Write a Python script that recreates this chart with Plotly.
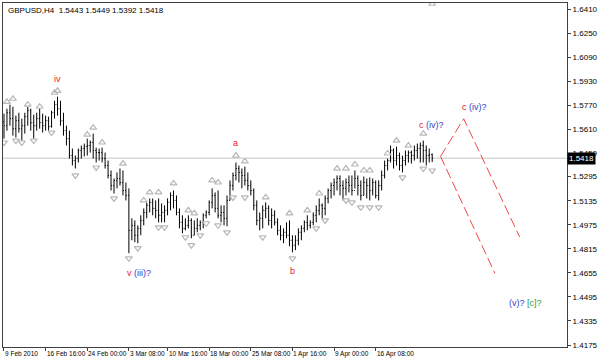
import plotly.graph_objects as go

# ---------------- data ----------------
highs = [1.5714,1.5747,1.5774,1.5760,1.5701,1.5720,1.5681,1.5720,1.5760,1.5747,
         1.5707,1.5720,1.5747,1.5714,1.5701,1.5694,1.5734,1.5800,1.5827,1.5800,
         1.5720,1.5634,1.5601,1.5482,1.5435,1.5482,1.5502,1.5515,1.5548,1.5535,
         1.5581,1.5488,1.5482,1.5488,1.5455,1.5402,1.5336,1.5283,1.5323,1.5349,
         1.5336,1.5256,1.5217,1.5018,1.5004,1.4971,1.5038,1.5084,1.5124,1.5150,
         1.5150,1.5137,1.5150,1.5117,1.5104,1.5150,1.5190,1.5203,1.5170,1.5084,
         1.5038,1.5018,1.5038,1.5018,1.5004,1.5018,1.5004,1.5051,1.5071,1.5137,
         1.5217,1.5190,1.5203,1.5104,1.5104,1.5170,1.5270,1.5323,1.5389,1.5369,
         1.5349,1.5362,1.5323,1.5270,1.5217,1.5137,1.5057,1.5104,1.5124,1.5104,
         1.5084,1.5071,1.5018,1.4971,1.4951,1.4991,1.5004,1.4905,1.4905,1.4951,
         1.4971,1.5004,1.5038,1.5004,1.5057,1.5104,1.5150,1.5117,1.5170,1.5217,
         1.5256,1.5283,1.5303,1.5303,1.5270,1.5283,1.5303,1.5303,1.5336,1.5303,
         1.5270,1.5296,1.5283,1.5290,1.5283,1.5270,1.5270,1.5336,1.5402,1.5415,
         1.5502,1.5482,1.5495,1.5455,1.5435,1.5469,1.5469,1.5469,1.5502,1.5515,
         1.5522,1.5535,1.5502,1.5482,1.5449]
lows = [1.5548,1.5601,1.5634,1.5568,1.5555,1.5588,1.5535,1.5581,1.5634,1.5601,
        1.5548,1.5601,1.5614,1.5588,1.5601,1.5601,1.5621,1.5681,1.5701,1.5634,
        1.5568,1.5502,1.5415,1.5369,1.5349,1.5389,1.5415,1.5429,1.5435,1.5455,
        1.5415,1.5389,1.5402,1.5389,1.5349,1.5283,1.5203,1.5183,1.5217,1.5236,
        1.5170,1.5137,1.4786,1.4872,1.4859,1.4852,1.4905,1.4971,1.5018,1.5057,
        1.5038,1.5018,1.4991,1.4991,1.4991,1.5038,1.5071,1.5084,1.5038,1.4951,
        1.4918,1.4938,1.4951,1.4885,1.4905,1.4925,1.4938,1.4951,1.5018,1.5038,
        1.5084,1.5057,1.5018,1.4991,1.4971,1.4965,1.5137,1.5203,1.5270,1.5256,
        1.5217,1.5236,1.5203,1.5170,1.5071,1.4971,1.4938,1.4951,1.5018,1.4971,
        1.4951,1.4971,1.4905,1.4872,1.4852,1.4885,1.4832,1.4792,1.4806,1.4839,
        1.4872,1.4925,1.4938,1.4951,1.4971,1.4991,1.5038,1.5018,1.5038,1.5117,
        1.5150,1.5170,1.5203,1.5170,1.5137,1.5170,1.5190,1.5170,1.5217,1.5170,
        1.5137,1.5170,1.5150,1.5137,1.5170,1.5150,1.5137,1.5203,1.5283,1.5336,
        1.5389,1.5349,1.5369,1.5336,1.5323,1.5369,1.5389,1.5382,1.5402,1.5415,
        1.5389,1.5389,1.5369,1.5389,1.5392]
closes = [1.5634,1.5720,1.5681,1.5614,1.5667,1.5614,1.5634,1.5694,1.5734,1.5654,
          1.5634,1.5681,1.5654,1.5634,1.5667,1.5628,1.5720,1.5774,1.5747,1.5667,
          1.5601,1.5548,1.5435,1.5402,1.5415,1.5469,1.5482,1.5495,1.5502,1.5522,
          1.5469,1.5455,1.5455,1.5415,1.5369,1.5303,1.5236,1.5270,1.5283,1.5256,
          1.5203,1.5170,1.4938,1.4971,1.4905,1.4951,1.5004,1.5057,1.5104,1.5124,
          1.5084,1.5071,1.5038,1.5057,1.5071,1.5124,1.5170,1.5137,1.5057,1.4991,
          1.4951,1.4971,1.5004,1.4905,1.4951,1.4971,1.4991,1.5038,1.5057,1.5124,
          1.5170,1.5084,1.5038,1.5057,1.5018,1.5137,1.5236,1.5303,1.5349,1.5323,
          1.5303,1.5270,1.5236,1.5203,1.5104,1.5004,1.5018,1.5071,1.5084,1.5004,
          1.5038,1.4991,1.4938,1.4905,1.4925,1.4905,1.4872,1.4839,1.4872,1.4925,
          1.4951,1.4991,1.4971,1.4991,1.5038,1.5071,1.5104,1.5084,1.5150,1.5203,
          1.5236,1.5256,1.5283,1.5236,1.5217,1.5256,1.5236,1.5203,1.5283,1.5236,
          1.5170,1.5256,1.5236,1.5203,1.5256,1.5170,1.5236,1.5303,1.5369,1.5402,
          1.5469,1.5402,1.5435,1.5369,1.5402,1.5435,1.5455,1.5435,1.5469,1.5482,
          1.5502,1.5469,1.5435,1.5443,1.5418]
first_open = 1.5660
last_bar = {"open": 1.5443, "high": 1.5449, "low": 1.5392, "close": 1.5418}

frac_up_idx = [1, 3, 8, 12, 17, 18, 28, 30, 33, 40, 47, 49, 52, 57, 62, 64, 70, 72, 78, 81,
               88, 96, 102, 106, 112, 115, 118, 121, 123, 129, 132, 136, 141, 144]
frac_up_price = [1.5793, 1.5813, 1.5774, 1.5760, 1.5853, 1.5866, 1.5575, 1.5621, 1.5522, 1.5382,
                 1.5137, 1.5190, 1.5190, 1.5250, 1.5071, 1.5051, 1.5270, 1.5256, 1.5435, 1.5396,
                 1.5157, 1.5051, 1.5071, 1.5183, 1.5349, 1.5349, 1.5376, 1.5336, 1.5336, 1.5449,
                 1.5535, 1.5502, 1.5581, 1.6445]
frac_dn_idx = [0, 4, 6, 10, 16, 24, 31, 37, 42, 45, 52, 54, 61, 63, 66, 68, 72, 75, 77, 81,
               87, 97, 105, 108, 115, 117, 120, 123, 126, 134, 141, 144]
frac_dn_price = [1.5522, 1.5535, 1.5522, 1.5535, 1.5588, 1.5303, 1.5356, 1.5150, 1.4752, 1.4819,
                 1.4958, 1.4958, 1.4892, 1.4839, 1.4905, 1.4985, 1.4971, 1.4925, 1.5157, 1.5157,
                 1.4892, 1.4752, 1.4951, 1.5004, 1.5137, 1.5124, 1.5091, 1.5091, 1.5091, 1.5290,
                 1.5349, 1.5336]

proj1_idx = [146.8, 154.6, 173.4]
proj1_price = [1.5430, 1.5680, 1.4894]
proj2_idx = [146.8, 165.1]
proj2_price = [1.5430, 1.4651]

date_idx = [0, 14, 28, 42, 55, 69, 83, 97, 111, 125]
date_text = ["9 Feb 2010", "16 Feb 16:00", "24 Feb 00:00", "3 Mar 08:00", "10 Mar 16:00",
             "18 Mar 00:00", "25 Mar 08:00", "1 Apr 16:00", "9 Apr 00:00", "16 Apr 08:00"]
price_ticks = [1.6410, 1.6250, 1.6090, 1.5930, 1.5770, 1.5610, 1.5450, 1.5295, 1.5135,
               1.4975, 1.4815, 1.4655, 1.4495, 1.4335, 1.4175]

RED = "#e8202e"
BLUE = "#3a3ac8"
GREEN = "#2e9a3a"
label_text = ["iv", "a", "b",
              f"<span style='color:{RED}'>v</span> <span style='color:{BLUE}'>(iii)?</span>",
              f"<span style='color:{RED}'>c</span> <span style='color:{BLUE}'>(iv)?</span>",
              f"<span style='color:{RED}'>c</span> <span style='color:{BLUE}'>(iv)?</span>",
              f"<span style='color:{BLUE}'>(v)?</span> <span style='color:{GREEN}'>[c]?</span>"]
label_idx = [18, 77.7, 97, 45.5, 143.7, 158.3, 175.3]
label_price = [1.5946, 1.5522, 1.4666, 1.4653, 1.5641, 1.5760, 1.4454]

# ---------------- figure ----------------
n = len(closes)
idx = list(range(n))
opens = [first_open] + closes[:-1]
opens[-1] = last_bar["open"]

FONT = "Liberation Sans"
FRAC = "#b8b8b8"
fig = go.Figure()

fig.add_trace(go.Ohlc(x=idx, open=opens, high=highs, low=lows, close=closes,
                      increasing_line_color="black", decreasing_line_color="black",
                      line_width=1, tickwidth=0.3, hoverinfo="skip", showlegend=False))

fig.add_trace(go.Scatter(x=frac_up_idx, y=frac_up_price, mode="markers",
                         marker=dict(symbol="triangle-up-open", size=6, color=FRAC,
                                     line=dict(width=1.2, color=FRAC)),
                         hoverinfo="skip", showlegend=False))
fig.add_trace(go.Scatter(x=frac_dn_idx, y=frac_dn_price, mode="markers",
                         marker=dict(symbol="triangle-down-open", size=6, color=FRAC,
                                     line=dict(width=1.2, color=FRAC)),
                         hoverinfo="skip", showlegend=False))

for px_, py_ in [(proj1_idx, proj1_price), (proj2_idx, proj2_price)]:
    fig.add_trace(go.Scatter(x=px_, y=py_, mode="lines",
                             line=dict(color="#f04848", width=1, dash="10px,4px"),
                             hoverinfo="skip", showlegend=False))

# current price line
fig.add_shape(type="line", xref="paper", x0=0, x1=1, yref="y",
              y0=last_bar["close"], y1=last_bar["close"],
              line=dict(color="#c4c4c4", width=1), layer="below")

ann = []
for t, xi, yp in zip(label_text, label_idx, label_price):
    color = RED if "<span" not in t else "black"
    ann.append(dict(x=xi, y=yp, xref="x", yref="y", text=t, showarrow=False,
                    font=dict(family=FONT, size=9, color=color)))
for xi, t in zip(date_idx, date_text):
    ann.append(dict(x=xi, y=0, xref="x", yref="paper", text=t, showarrow=False,
                    xanchor="left", yanchor="top", xshift=-1, yshift=-1,
                    font=dict(family=FONT, size=6.5, color="black")))
ann.append(dict(x=0, y=1, xref="paper", yref="paper", xanchor="left", yanchor="top",
                xshift=3, yshift=-1, showarrow=False,
                text=f"GBPUSD,H4  {last_bar['open']:.4f} {last_bar['high']:.4f} "
                     f"{last_bar['low']:.4f} {last_bar['close']:.4f}",
                font=dict(family=FONT, size=8, color="black")))
ann.append(dict(x=1, y=last_bar["close"], xref="paper", yref="y", xanchor="left",
                yanchor="middle", xshift=0, showarrow=False, text=f"{last_bar['close']:.4f}",
                bgcolor="black", borderpad=1,
                font=dict(family=FONT, size=8, color="white")))

fig.update_layout(
    width=600, height=360,
    margin=dict(l=2, r=29, t=2, b=13),
    paper_bgcolor="white", plot_bgcolor="white",
    annotations=ann,
    xaxis=dict(range=[-1/3, 189.33], rangeslider=dict(visible=False),
               showgrid=False, zeroline=False, showline=True, linecolor="#404040",
               linewidth=1, mirror=True, tickvals=date_idx,
               ticktext=[""] * len(date_idx), ticks="outside", ticklen=3,
               tickcolor="#404040", fixedrange=True),
    yaxis=dict(range=[1.4162, 1.6450], side="right", showgrid=False, zeroline=False,
               showline=True, linecolor="#404040", linewidth=1, mirror=True,
               tickvals=price_ticks, ticktext=[f"{v:.4f}" for v in price_ticks],
               ticks="outside", ticklen=3, tickcolor="#404040",
               tickfont=dict(family=FONT, size=8, color="black"), fixedrange=True),
)

fig.write_html("out.html", config={"displayModeBar": False},
               post_script="document.body.style.margin='0px';document.body.style.overflow='hidden';")
